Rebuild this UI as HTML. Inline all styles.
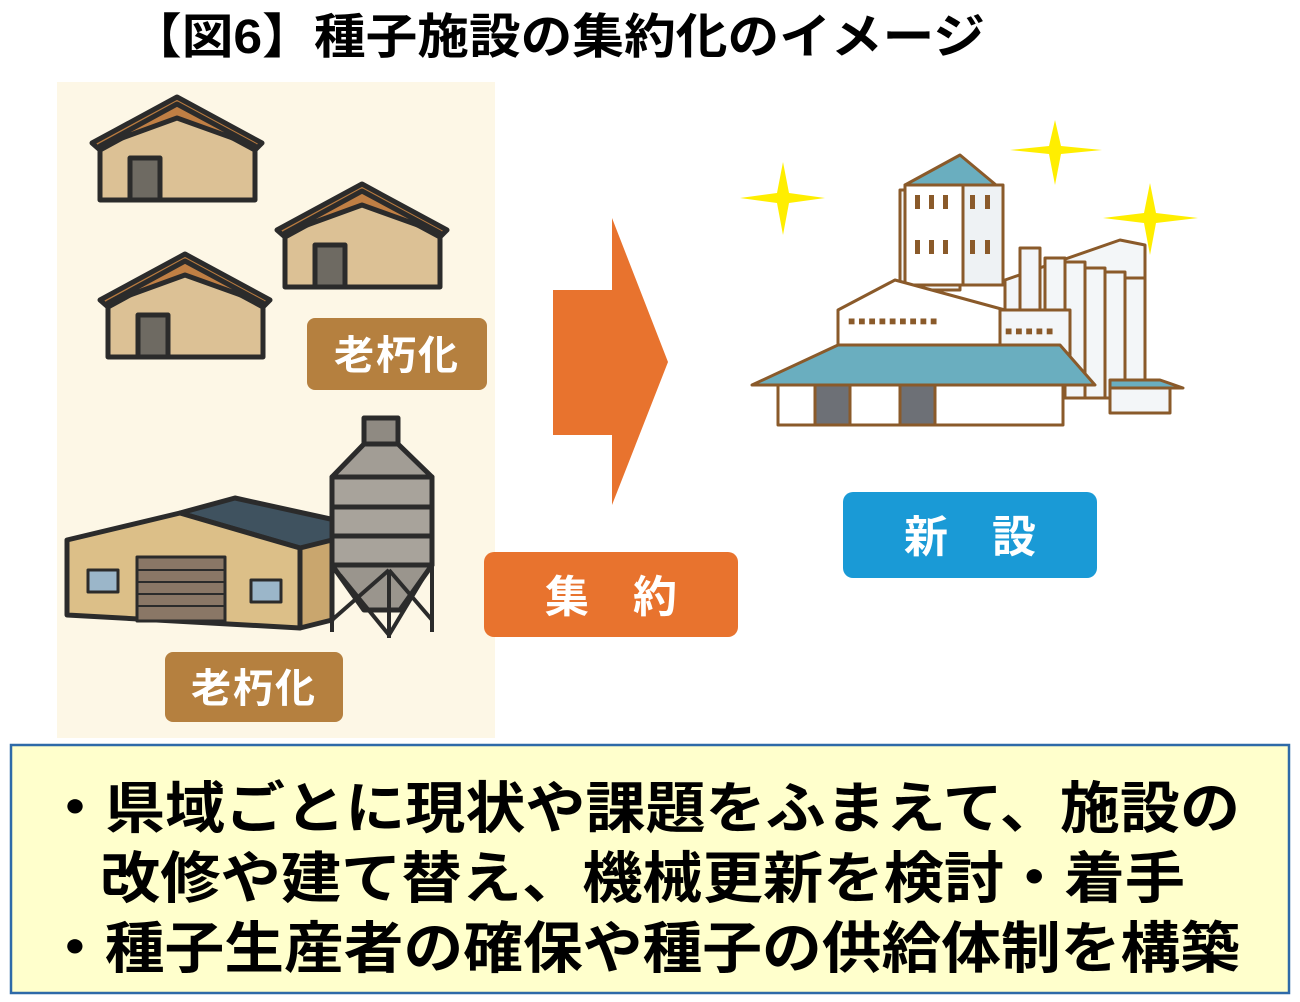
<!DOCTYPE html>
<html><head><meta charset="utf-8"><style>
body{margin:0;width:1300px;height:1002px;background:#fff;overflow:hidden;font-family:"Liberation Sans","Noto Sans CJK JP",sans-serif}
</style></head><body>
<svg width="1300" height="1002" viewBox="0 0 1300 1002" xmlns="http://www.w3.org/2000/svg" style="position:absolute;left:0;top:0">
<text x="130" y="53" font-size="48" font-weight="bold" font-family="Liberation Sans, Noto Sans CJK JP, sans-serif" fill="#000" textLength="855" lengthAdjust="spacingAndGlyphs">【図6】種子施設の集約化のイメージ</text>
<rect x="57" y="82" width="438" height="656" fill="#fdf7e6"/>
<!-- houses -->
<g stroke="#2b2b2b" stroke-width="5" stroke-linejoin="round">
 <g id="h">
  <polygon points="100,140 100,200 255,200 255,140 177,100" fill="#dcc195"/>
  <polygon points="92,143 177,97 262,143 255,150 177,108 100,150" fill="#b97b3f"/>
  <polygon points="100,146 177,104 255,146 177,118" fill="#c07f44"/>
  <rect x="130" y="158" width="30" height="42" fill="#6e6a62"/>
 </g>
 <use href="#h" transform="translate(185,87)"/>
 <use href="#h" transform="translate(8,157)"/>
 <!-- warehouse -->
 <polygon points="235,498 335,520 335,548 300,548 180,513" fill="#3f525f"/>
 <polygon points="67,540 180,513 300,548 300,628 67,615" fill="#dcbf88"/>
 <polygon points="300,548 332,540 332,620 300,628" fill="#c9a66e"/>
 <rect x="137" y="557" width="88" height="64" fill="#8a7766" stroke-width="3"/>
 <g stroke-width="2"><line x1="137" y1="570" x2="225" y2="570"/><line x1="137" y1="582" x2="225" y2="582"/><line x1="137" y1="594" x2="225" y2="594"/><line x1="137" y1="606" x2="225" y2="606"/></g>
 <rect x="88" y="570" width="30" height="22" fill="#9bb6c9" stroke-width="3"/>
 <rect x="251" y="580" width="30" height="22" fill="#9bb6c9" stroke-width="3"/>
 <!-- silo -->
 <rect x="364" y="418" width="34" height="26" fill="#8f8a82"/>
 <polygon points="364,444 398,444 432,477 332,477" fill="#a29d95"/>
 <rect x="332" y="477" width="100" height="88" fill="#a8a39b"/>
 <line x1="332" y1="507" x2="432" y2="507"/><line x1="332" y1="536" x2="432" y2="536"/>
 <polygon points="332,565 432,565 400,610 364,610" fill="#9a958d"/>
 <g stroke-width="4"><line x1="332" y1="565" x2="332" y2="632"/><line x1="432" y1="565" x2="432" y2="632"/><line x1="389" y1="570" x2="389" y2="638"/><line x1="332" y1="620" x2="389" y2="570"/><line x1="432" y1="620" x2="389" y2="570"/><line x1="340" y1="575" x2="389" y2="635"/><line x1="425" y1="575" x2="389" y2="635"/></g>
</g>
<rect x="307" y="318" width="180" height="72" rx="8" fill="#b5803f"/>
<text x="397" y="369" font-size="40" font-weight="bold" fill="#fff" text-anchor="middle" letter-spacing="2">老朽化</text>
<rect x="165" y="652" width="178" height="70" rx="8" fill="#b5803f"/>
<text x="254" y="702" font-size="40" font-weight="bold" fill="#fff" text-anchor="middle" letter-spacing="2">老朽化</text>
<!-- arrow -->
<polygon points="553,290 612,290 612,218 668,362 612,505 612,435 553,435" fill="#e8732e"/>
<rect x="484" y="552" width="254" height="85" rx="10" fill="#e8732e"/>
<text x="611" y="612" font-size="44" font-weight="bold" fill="#fff" text-anchor="middle">集　約</text>
<!-- new building -->
<g stroke="#8a5a2a" stroke-width="3" stroke-linejoin="round" fill="#fff">
 <polygon points="1005,280 1120,240 1145,245 1145,395 1005,395" fill="#f3f6f8"/>
 <g fill="#f3f6f8"><rect x="1020" y="248" width="20" height="150"/><rect x="1045" y="258" width="20" height="140"/><rect x="1065" y="262" width="20" height="136"/><rect x="1085" y="268" width="20" height="130"/><rect x="1105" y="272" width="20" height="126"/><rect x="1125" y="278" width="20" height="120"/></g>
 <rect x="900" y="190" width="60" height="100" fill="#f3f6f8"/>
 <polygon points="905,185 960,155 1002,190 960,185" fill="#6aaebf"/>
 <rect x="905" y="185" width="58" height="100"/>
 <rect x="963" y="185" width="40" height="100" fill="#eef2f4"/>
 <polygon points="838,310 895,280 1005,310 1005,370 838,370"/>
 <rect x="1000" y="310" width="70" height="60" fill="#f3f6f8"/>
 <polygon points="752,385 838,345 1060,345 1095,385" fill="#6aaebf"/>
 <rect x="778" y="385" width="285" height="40"/>
 <rect x="815" y="385" width="35" height="40" fill="#6d7076"/>
 <rect x="900" y="385" width="35" height="40" fill="#6d7076"/>
 <polygon points="1110,380 1160,380 1183,388 1110,388" fill="#6aaebf"/>
 <rect x="1110" y="388" width="60" height="25" fill="#f3f6f8"/>
</g>
<g fill="#8a5a2a"><rect x="915" y="195" width="5" height="14"/><rect x="929" y="195" width="5" height="14"/><rect x="943" y="195" width="5" height="14"/><rect x="970" y="195" width="5" height="14"/><rect x="985" y="195" width="5" height="14"/><rect x="915" y="240" width="5" height="14"/><rect x="929" y="240" width="5" height="14"/><rect x="943" y="240" width="5" height="14"/><rect x="970" y="240" width="5" height="14"/><rect x="985" y="240" width="5" height="14"/></g>
<text x="848" y="325" font-size="12" fill="#8a5a2a" letter-spacing="3">■■■■■■■■■</text>
<text x="1005" y="335" font-size="12" fill="#8a5a2a" letter-spacing="3">■■■■■</text>
<!-- sparkles -->
<g fill="#ffee00">
 <polygon points="783,162 789,193 825,198 789,203 783,235 777,203 740,198 777,193"/>
 <polygon points="1055,120 1061,146 1102,150 1061,154 1055,185 1049,154 1010,150 1049,146"/>
 <polygon points="1150,183 1156,213 1198,218 1156,223 1150,255 1144,223 1103,218 1144,213"/>
</g>
<rect x="843" y="492" width="254" height="86" rx="10" fill="#1a9ad6"/>
<text x="970" y="552" font-size="44" font-weight="bold" fill="#fff" text-anchor="middle">新　設</text>
<!-- bottom box -->
<rect x="11" y="745" width="1278" height="248" fill="#ffffcc" stroke="#2e6aa8" stroke-width="2.5"/>
<g font-size="56" font-weight="bold" fill="#000">
<text x="45" y="828" textLength="1195" lengthAdjust="spacingAndGlyphs">・県域ごとに現状や課題をふまえて、施設の</text>
<text x="100" y="898" textLength="1085" lengthAdjust="spacingAndGlyphs">改修や建て替え、機械更新を検討・着手</text>
<text x="45" y="968" textLength="1195" lengthAdjust="spacingAndGlyphs">・種子生産者の確保や種子の供給体制を構築</text>
</g>
</svg>
</body></html>
